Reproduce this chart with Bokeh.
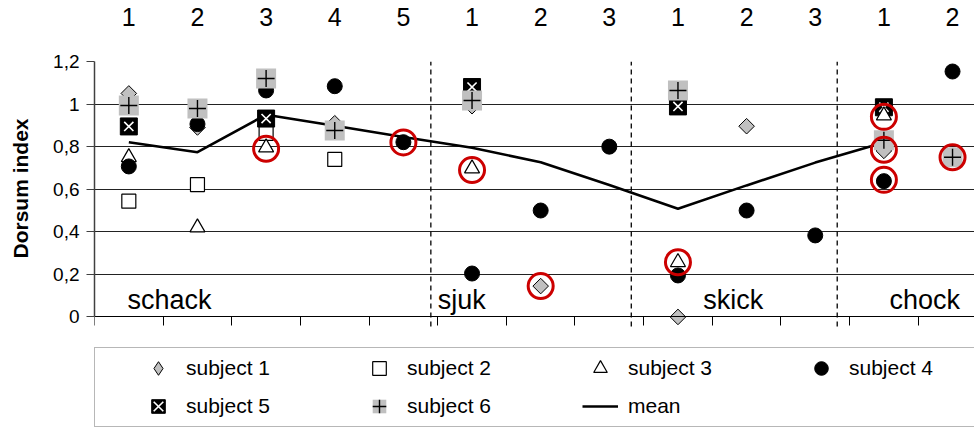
import math
from bokeh.plotting import figure
from bokeh.models import (Range1d, LinearAxis, FixedTicker, Grid, Legend, LegendItem, Title)
from bokeh.core.properties import value
from bokeh.embed import file_html
from bokeh.resources import INLINE

nan = float("nan")

# ---- data -------------------------------------------------------------
tick_labels = ["1", "2", "3", "4", "5", "1", "2", "3", "1", "2", "3", "1", "2"]
group_names = ["schack", "sjuk", "skick", "chock"]
group_label_x = [0.48, 5.0, 8.87, 11.58]
group_separators = [4.9, 7.82, 10.82]

subject1 = [1.05, 0.89, 0.93, 0.91, nan, 0.99, 0.145, nan, 0.0, 0.896, nan, 0.78, nan]
subject2 = [0.544, 0.622, 0.862, 0.74, nan, nan, nan, nan, nan, nan, nan, nan, nan]
subject3 = [0.75, 0.42, 0.796, nan, nan, 0.697, nan, nan, 0.257, nan, nan, 0.946, nan]
subject4 = [0.707, 0.906, 1.064, 1.084, 0.821, 0.204, 0.50, 0.80, 0.195, 0.50, 0.383, 0.638, 1.153]
subject5 = [0.895, nan, 0.932, nan, nan, 1.08, nan, nan, 0.989, nan, nan, 0.985, nan]
subject6 = [0.993, 0.979, 1.12, 0.876, nan, 1.017, nan, nan, 1.064, nan, nan, 0.83, 0.75]
mean = [0.821, 0.774, 0.95, 0.898, 0.845, 0.795, 0.727, 0.62, 0.508, 0.618, 0.725, 0.82, nan]

# highlighted (circled) observations: category index and value
highlight_cat = [2, 4, 5, 6, 8, 11, 11, 11, 12]
highlight_val = [0.79, 0.82, 0.69, 0.145, 0.257, 0.94, 0.785, 0.644, 0.75]

y_ticks = [0, 0.2, 0.4, 0.6, 0.8, 1, 1.2]
y_tick_labels = ["0", "0,2", "0,4", "0,6", "0,8", "1", "1,2"]
y_title = "Dorsum index"

# ---- figure -----------------------------------------------------------
x = [i + 0.5 for i in range(len(tick_labels))]
hx = [c + 0.5 for c in highlight_cat]

FONT = "Liberation Sans"

p = figure(width=974, height=428, output_backend="svg", toolbar_location=None,
           x_range=Range1d(0, 12.82), y_range=Range1d(-0.524, 1.2),
           x_axis_location="above", y_axis_location="left",
           min_border_left=94, min_border_right=0, min_border_top=61,
           min_border_bottom=0)
p.outline_line_color = None
p.background_fill_color = "white"
p.border_fill_color = "white"
p.xgrid.visible = False
p.ygrid.visible = False

# top axis with category numbers
top = p.xaxis[0]
top.ticker = FixedTicker(ticks=x)
top.major_label_overrides = {xx: lab for xx, lab in zip(x, tick_labels)}
top.axis_line_color = None
top.major_tick_line_color = None
top.minor_tick_line_color = None
top.major_label_standoff = 30
top.major_label_text_font = FONT
top.major_label_text_font_size = "25px"
top.major_label_text_color = "black"

# left axis (bounded to 0..1.2)
ya = p.yaxis[0]
ya.ticker = FixedTicker(ticks=y_ticks)
ya.major_label_overrides = {t: lab for t, lab in zip(y_ticks, y_tick_labels)}
ya.bounds = (y_ticks[0], y_ticks[-1])
ya.axis_line_color = "#404040"
ya.axis_line_width = 1.5
ya.major_tick_line_color = "#404040"
ya.major_tick_out = 8
ya.major_tick_in = 0
ya.minor_tick_line_color = None
ya.major_label_standoff = 7
ya.major_label_text_font = FONT
ya.major_label_text_font_size = "19px"
ya.major_label_text_color = "black"
# blank spacer label: pushes the title panel further left
ya.axis_label = " "
ya.axis_label_text_font_size = "1px"
ya.axis_label_standoff = 14

# y title as a left-side title anchored from the top of the frame
p.add_layout(Title(text=y_title, align="right", offset=57, standoff=0,
                   text_font=FONT, text_font_style="bold", text_font_size="21px",
                   text_color="black"), "left")

# bottom axis at y = 0, ticks on category boundaries
bottom = LinearAxis(fixed_location=0,
                    ticker=FixedTicker(ticks=list(range(len(tick_labels) + 1))))
bottom.axis_line_color = "black"
bottom.major_tick_line_color = "black"
bottom.major_tick_out = 9
bottom.major_tick_in = 0
bottom.minor_tick_line_color = None
bottom.major_label_text_alpha = 0
bottom.major_label_text_font_size = "1px"
p.add_layout(bottom, "below")

# horizontal gridlines
g1 = Grid(dimension=1, ticker=FixedTicker(ticks=y_ticks[1:-1]),
          grid_line_color="#222222", grid_line_width=1)
g2 = Grid(dimension=1, ticker=FixedTicker(ticks=[y_ticks[-1]]),
          grid_line_color="#a0a0a0", grid_line_width=1.5)
p.add_layout(g1)
p.add_layout(g2)

# group separators
p.segment(x0=group_separators, x1=group_separators,
          y0=[-0.045] * len(group_separators), y1=[1.2] * len(group_separators),
          line_color="black", line_width=1.3, line_dash="5 4")

# group labels
p.text(x=group_label_x, y=[0.08] * len(group_names), text=group_names,
       text_font=value(FONT), text_font_size="27px", text_color="black",
       text_baseline="alphabetic", text_align="left")

# mean line
rm = p.line(x, mean, line_color="black", line_width=2.6)

# markers
r1 = p.scatter(x, subject1, marker="square", angle=math.pi / 4, size=11,
               fill_color="#c0c0c0", line_color="black", line_width=1)
r1_leg = p.scatter(x, subject1, marker="diamond", size=15, visible=False,
                   fill_color="#c0c0c0", line_color="black", line_width=1)
r2 = p.scatter(x, subject2, marker="square", size=14,
               fill_color="white", line_color="black", line_width=1.2)
r5a = p.scatter(x, subject5, marker="square", size=17,
                fill_color="black", line_color="black", line_width=1)
r5b = p.scatter(x, subject5, marker="x", size=13,
                line_color="white", line_width=1.6)
r3 = p.scatter(x, subject3, marker="triangle", size=15,
               fill_color="white", line_color="black", line_width=1.2)
r4 = p.scatter(x, subject4, marker="circle", size=15,
               fill_color="black", line_color="black", line_width=1)
r6a = p.scatter(x, subject6, marker="square", size=20,
                fill_color="#c0c0c0", line_color=None)
r6b = p.scatter(x, subject6, marker="cross", size=17,
                line_color="black", line_width=1.4)

# highlight rings
p.scatter(hx, highlight_val, marker="circle", size=25, fill_color=None,
          line_color="#cc0000", line_width=3)

legend = Legend(items=[
    LegendItem(label="subject 1", renderers=[r1_leg]),
    LegendItem(label="subject 2", renderers=[r2]),
    LegendItem(label="subject 3", renderers=[r3]),
    LegendItem(label="subject 4", renderers=[r4]),
    LegendItem(label="subject 5", renderers=[r5a, r5b]),
    LegendItem(label="subject 6", renderers=[r6a, r6b]),
    LegendItem(label="mean", renderers=[rm]),
], location=(0, 1), orientation="horizontal", ncols=4,
    title=" ", title_location="left", title_text_font_size="1px", title_standoff=41,
    padding=3, spacing=4, glyph_width=36, glyph_height=34, label_height=34,
    label_width=171, label_standoff=10,
    label_text_font=FONT, label_text_font_size="21px", label_text_color="black",
    border_line_color="#707070", border_line_width=1.5,
    background_fill_color="white", background_fill_alpha=1)
p.add_layout(legend)

open("out.html", "w").write(file_html(p, INLINE))
